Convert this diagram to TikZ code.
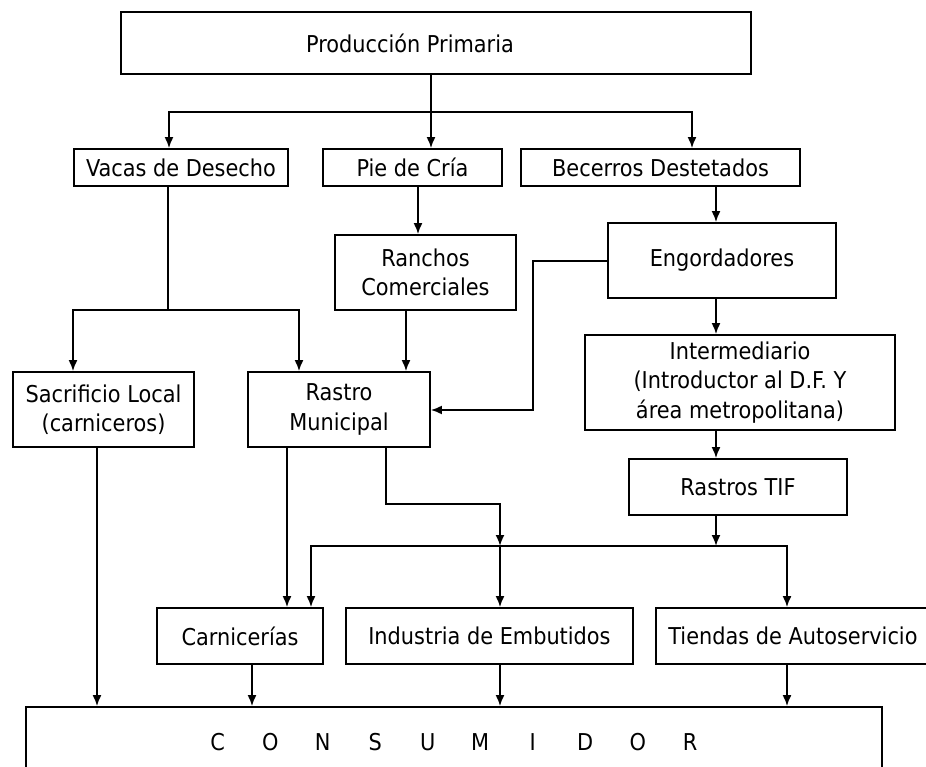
\documentclass[tikz,border=0pt]{standalone}
\usepackage{fontspec}
\setmainfont{DejaVu Sans Condensed}
\usetikzlibrary{arrows.meta}
\tikzset{
  box/.style={
      draw,
      rectangle,
      line width=1.8pt,
      align=center,
      inner sep=0pt,
      font=\fontsize{23.2}{29.5}\selectfont,
  },
  wire/.style={line width=1.8pt},
  flow/.style={
      wire,
      -{Latex[length=11pt,width=9pt]}
  }
}

\begin{document}
\begin{tikzpicture}[x=1pt,y=-1pt]
	\useasboundingbox (0,0) rectangle (926,767);
	% nivel superior
	\node[box,minimum width=630pt,minimum height=62pt] (prod) at (436,43) {\hspace*{-52pt}Producción Primaria};
	\node[box,minimum width=214pt,minimum height=37pt] (vacas) at (181,167.5) {Vacas de Desecho};
	\node[box,minimum width=179pt,minimum height=37pt] (pie) at (412.5,167.5) {Pie de Cría};
	\node[box,minimum width=279pt,minimum height=37pt] (becerros) at (660.5,167.5) {Becerros Destetados};
	% nivel medio
	\node[box,minimum width=181pt,minimum height=75pt] (ranchos) at (425.5,272.5) {Ranchos\\Comerciales};
	\node[box,minimum width=228pt,minimum height=75pt] (engord) at (722,260.5) {Engordadores};
	\node[box,minimum width=181pt,minimum height=75pt] (sacrif) at (103.5,409.5) {Sacrificio Local\\(carniceros)};
	\node[box,minimum width=182pt,minimum height=75pt] (rastro) at (339,409.5) {Rastro\\Municipal};
	\node[box,minimum width=310pt,minimum height=95pt] (interm) at (740,382.5) {Intermediario\\(Introductor al D.F. Y\\área metropolitana)};
	\node[box,minimum width=218pt,minimum height=56pt] (tif) at (738,487) {Rastros TIF};
	% nivel inferior
	\node[box,minimum width=166pt,minimum height=56pt] (carn) at (240,636) {Carnicerías};
	\node[box,minimum width=287pt,minimum height=56pt] (indus) at (489.5,636) {Industria de Embutidos};
	\node[box,minimum width=274pt,minimum height=56pt] (tiendas) at (793,636) {Tiendas de Autoservicio};
	\node[box,minimum width=856pt,minimum height=70pt] (cons) at (454,742) {\foreach \l in {C,O,N,S,U,M,I,D,O,R}{\makebox[52.5pt]{\l}}};
	% puntos de quiebre
	\coordinate (fork1) at (431,112);
	\coordinate (fork2) at (168,310);
	\coordinate (elbow) at (533,410);
	\coordinate (fork3) at (716,546);
	\coordinate (step) at (500,504);
	\coordinate (fork4) at (500,546);
	% conexiones
	\draw[wire] (fork1 |- prod.south) -- (fork1);
	\draw[flow] (fork1) -| ([xshift=-12pt]vacas.north);
	\draw[flow] (fork1) -- (fork1 |- pie.north);
	\draw[flow] (fork1) -| ([xshift=31.5pt]becerros.north);
	\draw[wire] (fork2 |- vacas.south) -- (fork2);
	\draw[flow] (fork2) -| ([xshift=-30.5pt]sacrif.north);
	\draw[flow] (fork2) -| ([xshift=-40pt]rastro.north);
	\draw[flow] ([xshift=5.5pt]pie.south) -- ([xshift=5.5pt]pie.south |- ranchos.north);
	\draw[flow] ([xshift=-19.5pt]ranchos.south) -- ([xshift=-19.5pt]ranchos.south |- rastro.north);
	\draw[flow] ([xshift=55.5pt]becerros.south) -- ([xshift=55.5pt]becerros.south |- engord.north);
	\draw[flow] ([yshift=-0.5pt]engord.west) -| (elbow) -- (elbow -| rastro.east);
	\draw[flow] ([xshift=-6pt]engord.south) -- ([xshift=-6pt]engord.south |- interm.north);
	\draw[flow] ([xshift=-24pt]interm.south) -- ([xshift=-24pt]interm.south |- tif.north);
	\draw[flow] ([xshift=-22pt]tif.south) -- (fork3);
	\draw[flow] (fork3) -| ([xshift=71pt]carn.north);
	\draw[flow] (fork3) -| ([xshift=-6pt]tiendas.north);
	\draw[flow] ([xshift=-52pt]rastro.south) -- ([xshift=-52pt]rastro.south |- carn.north);
	\draw[flow] ([xshift=47pt]rastro.south) |- (step) -- (fork4);
	\draw[flow] (fork4) -- (fork4 |- indus.north);
	\draw[flow] ([xshift=-6.5pt]sacrif.south) -- ([xshift=-6.5pt]sacrif.south |- cons.north);
	\draw[flow] ([xshift=12pt]carn.south) -- ([xshift=12pt]carn.south |- cons.north);
	\draw[flow] ([xshift=10.5pt]indus.south) -- ([xshift=10.5pt]indus.south |- cons.north);
	\draw[flow] ([xshift=-6pt]tiendas.south) -- ([xshift=-6pt]tiendas.south |- cons.north);
\end{tikzpicture}
\end{document}
